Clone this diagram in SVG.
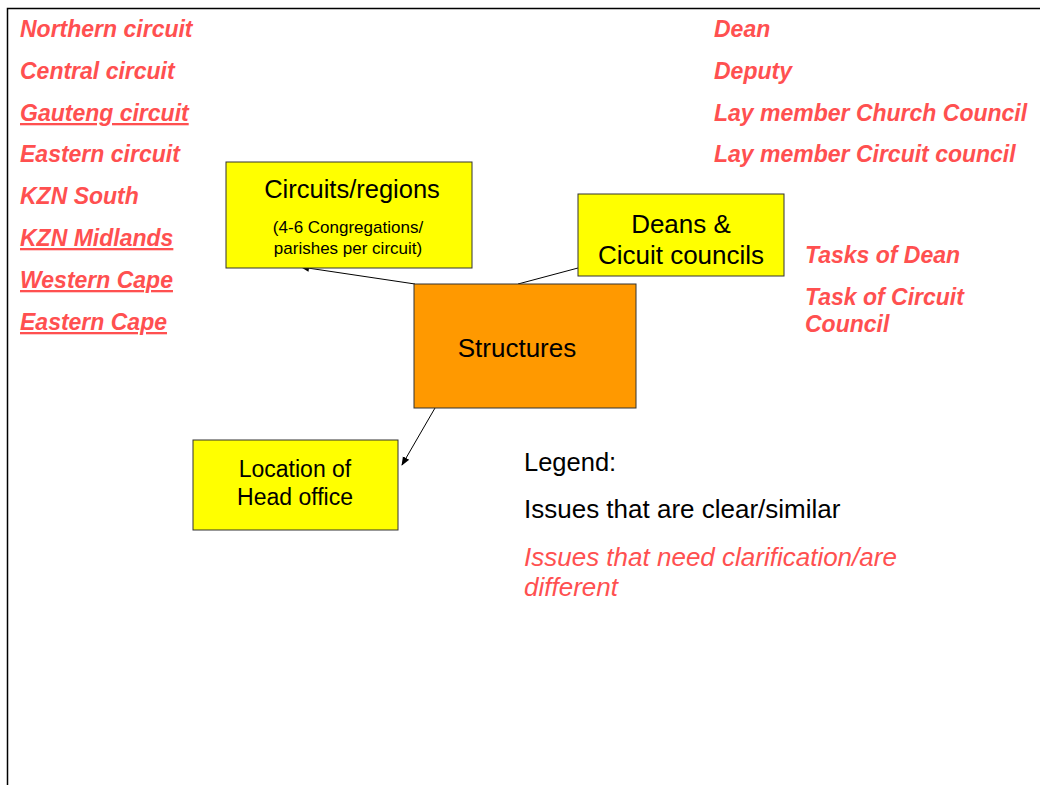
<svg xmlns="http://www.w3.org/2000/svg" width="1040" height="785" viewBox="0 0 1040 785">
<style>
text{font-family:"Liberation Sans",Arial,sans-serif}
.r{fill:#ff5050;font-weight:bold;font-style:italic;font-size:23px}
.u{text-decoration:underline}
.box{stroke:#333;stroke-width:1}
.y{fill:#ffff00}
.o{fill:#ff9900}
.t{fill:#000;text-anchor:middle}
.con{stroke:#000;stroke-width:1;fill:none}
</style>
<defs>
<marker id="ah" viewBox="0 0 10 10" refX="9" refY="5" markerWidth="9" markerHeight="9" markerUnits="userSpaceOnUse" orient="auto">
<path d="M0,1 L10,5 L0,9 z" fill="#000"/>
</marker>
</defs>
<rect width="1040" height="785" fill="#fff"/>
<path d="M7.5,785 L7.5,8.5 L1040,8.5" stroke="#000" stroke-width="1.5" fill="none"/>
<g id="left-list">
<text class="r" x="20" y="37">Northern circuit</text>
<text class="r" x="20" y="79">Central circuit</text>
<text class="r u" x="20" y="121">Gauteng circuit</text>
<text class="r" x="20" y="162">Eastern circuit</text>
<text class="r" x="20" y="204">KZN South</text>
<text class="r u" x="20" y="246">KZN Midlands</text>
<text class="r u" x="20" y="288">Western Cape</text>
<text class="r u" x="20" y="330">Eastern Cape</text>
</g>
<g id="right-list">
<text class="r" x="714" y="37">Dean</text>
<text class="r" x="714" y="79">Deputy</text>
<text class="r" x="714" y="121">Lay member Church Council</text>
<text class="r" x="714" y="162">Lay member Circuit council</text>
</g>
<g id="tasks">
<text class="r" x="805" y="263">Tasks of Dean</text>
<text class="r" x="805" y="305">Task of Circuit</text>
<text class="r" x="805" y="332">Council</text>
</g>
<g id="connectors">
<line class="con" x1="415" y1="284" x2="301" y2="267" marker-end="url(#ah)"/>
<line class="con" x1="518" y1="284" x2="578" y2="268"/>
<line class="con" x1="435" y1="408" x2="402" y2="465" marker-end="url(#ah)"/>
</g>
<g id="circuits">
<rect class="box y" x="226" y="162" width="246" height="106"/>
<text class="t" x="352" y="198" font-size="25.5">Circuits/regions</text>
<text class="t" x="348" y="233" font-size="17">(4-6 Congregations/</text>
<text class="t" x="348" y="254" font-size="17">parishes per circuit)</text>
</g>
<g id="deans">
<rect class="box y" x="578" y="194" width="206" height="82"/>
<text class="t" x="681" y="233" font-size="26">Deans &amp;</text>
<text class="t" x="681" y="264" font-size="26">Cicuit councils</text>
</g>
<g id="structures">
<rect class="box o" x="414" y="284" width="222" height="124"/>
<text class="t" x="517" y="357" font-size="26">Structures</text>
</g>
<g id="headoffice">
<rect class="box y" x="193" y="440" width="205" height="90"/>
<text class="t" x="295" y="477" font-size="23">Location of</text>
<text class="t" x="295" y="505" font-size="23">Head office</text>
</g>
<g id="legend">
<text x="524" y="471" font-size="25.5" fill="#000">Legend:</text>
<text x="524" y="518" font-size="26" fill="#000">Issues that are clear/similar</text>
<text x="524" y="566" font-size="26" fill="#ff5050" font-style="italic">Issues that need clarification/are</text>
<text x="524" y="596" font-size="26" fill="#ff5050" font-style="italic">different</text>
</g>
</svg>
